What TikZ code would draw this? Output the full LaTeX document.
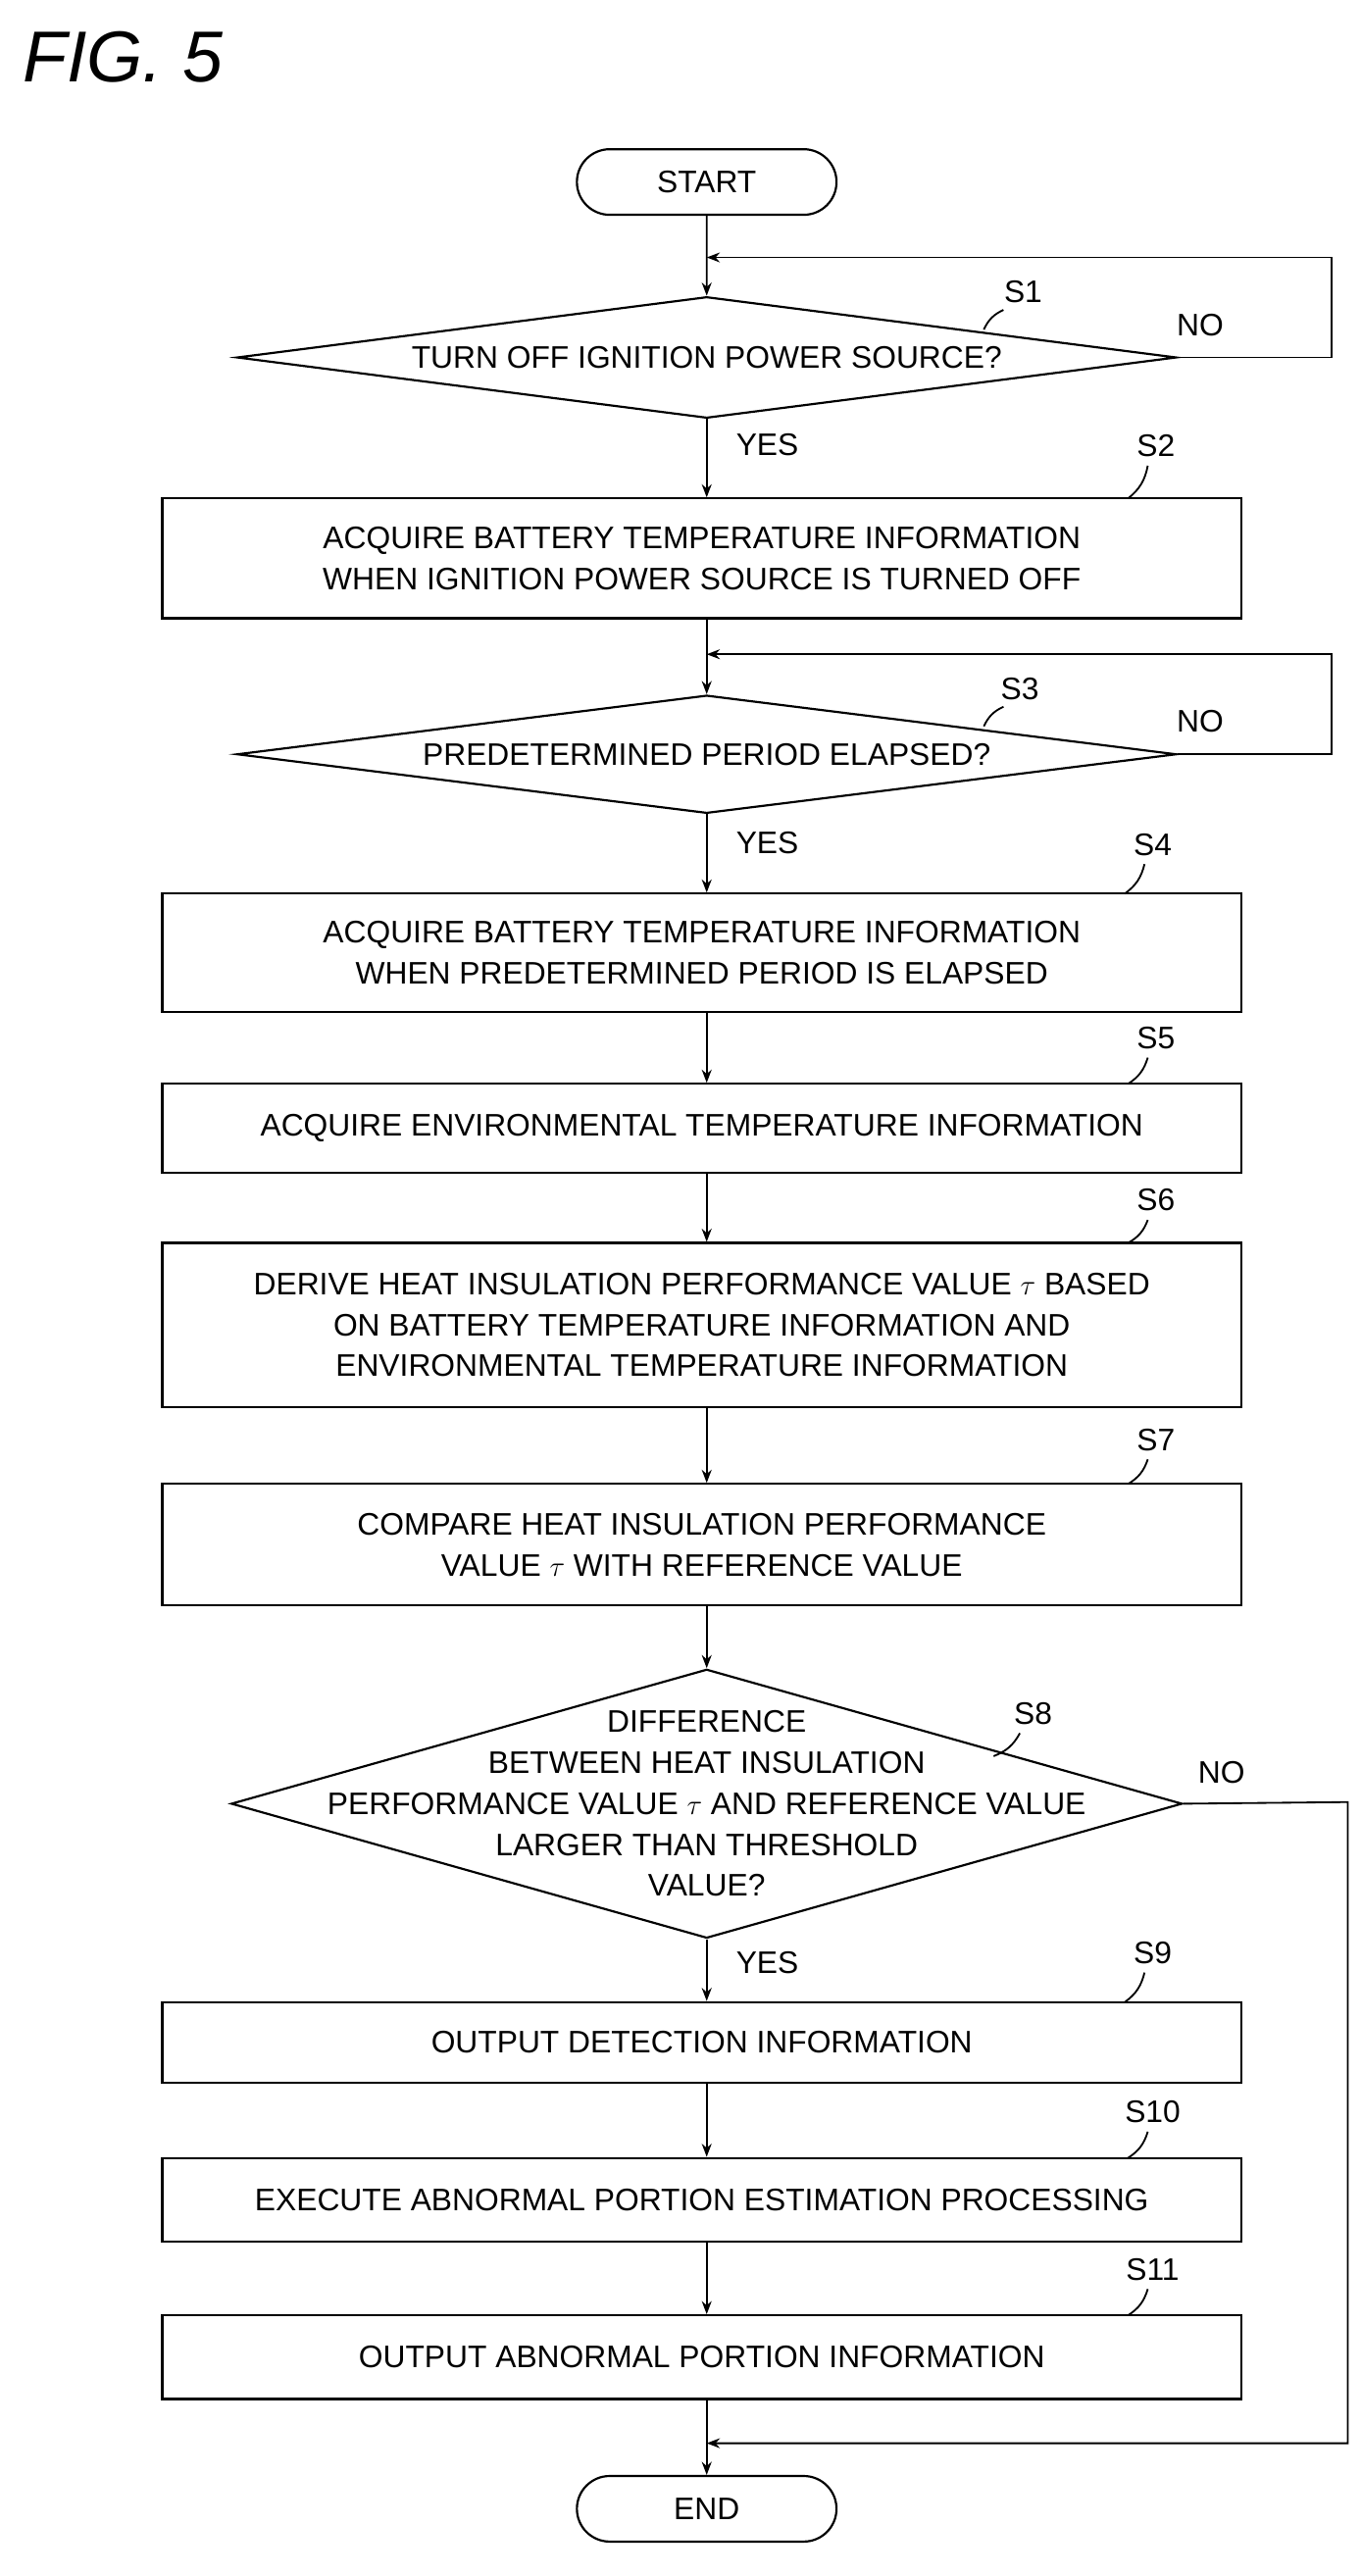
\documentclass[tikz,border=0pt]{standalone}
\usepackage{fontspec}
\setmainfont{Liberation Sans}
\usetikzlibrary{shapes.geometric,shapes.misc,arrows.meta}
\begin{document}
\begin{tikzpicture}[x=1pt,y=-1pt,
  box/.style={draw,line width=1.3pt,minimum width=658pt,inner sep=0pt,align=center,font=\fontsize{19}{25}\selectfont},
  dia/.style={draw,line width=1.3pt,diamond,aspect=7.7,inner sep=0pt,align=center,font=\fontsize{19}{25}\selectfont},
  term/.style={draw,line width=1.3pt,rounded rectangle,minimum width=165pt,minimum height=40pt,font=\fontsize{19}{20}\selectfont},
  lbl/.style={font=\fontsize{19}{20}\selectfont},
  arr/.style={line width=1.1pt,-{Stealth[length=8pt,width=6pt]}},
  ln/.style={line width=1.1pt}]
\useasboundingbox (0,0) rectangle (830,1571);
\node[font=\itshape\fontsize{44}{46}\selectfont] (fig) at (75,35) {FIG. 5};
\node[term] (start) at (431,111) {START};
\node[dia,minimum width=573pt,minimum height=74pt] (s1) at (431,218) {TURN OFF IGNITION POWER SOURCE?};
\node[box,minimum height=73pt] (s2) at (428,340.5) {ACQUIRE BATTERY TEMPERATURE INFORMATION\\WHEN IGNITION POWER SOURCE IS TURNED OFF};
\node[dia,minimum width=573pt,minimum height=72pt] (s3) at (431,460) {PREDETERMINED PERIOD ELAPSED?};
\node[box,minimum height=72pt] (s4) at (428,581) {ACQUIRE BATTERY TEMPERATURE INFORMATION\\WHEN PREDETERMINED PERIOD IS ELAPSED};
\node[box,minimum height=54pt] (s5) at (428,688) {ACQUIRE ENVIRONMENTAL TEMPERATURE INFORMATION};
\node[box,minimum height=100pt] (s6) at (428,808) {DERIVE HEAT INSULATION PERFORMANCE VALUE $\tau$ BASED\\ON BATTERY TEMPERATURE INFORMATION AND\\ENVIRONMENTAL TEMPERATURE INFORMATION};
\node[box,minimum height=74pt] (s7) at (428,942) {COMPARE HEAT INSULATION PERFORMANCE\\VALUE $\tau$ WITH REFERENCE VALUE};
\node[dia,minimum width=580pt,minimum height=164pt] (s8) at (431,1100) {};
\node[font=\fontsize{19}{25}\selectfont,align=center] (s8t) at (431,1100) {DIFFERENCE\\BETWEEN HEAT INSULATION\\PERFORMANCE VALUE $\tau$ AND REFERENCE VALUE\\LARGER THAN THRESHOLD\\VALUE?};
\node[box,minimum height=49pt] (s9) at (428,1245.5) {OUTPUT DETECTION INFORMATION};
\node[box,minimum height=51pt] (s10) at (428,1341.5) {EXECUTE ABNORMAL PORTION ESTIMATION PROCESSING};
\node[box,minimum height=51pt] (s11) at (428,1437.5) {OUTPUT ABNORMAL PORTION INFORMATION};
\node[term] (end) at (431,1530) {END};
\coordinate (j1) at (431,157); \coordinate (r1) at (812,157); \coordinate (r1b) at (812,218);
\coordinate (j3) at (431,399); \coordinate (r3) at (812,399); \coordinate (r3b) at (812,460);
\coordinate (j8) at (431,1490); \coordinate (r8) at (822,1490); \coordinate (r8b) at (822,1099);
\draw[arr] (start) -- (s1.north);
\draw[arr] (s1.east) -- (r1b) -- (r1) -- (j1);
\draw[arr] (s1.south) -- (s2.north -| s1.south);
\draw[arr] (s2.south -| s1.south) -- (s3.north);
\draw[arr] (s3.east) -- (r3b) -- (r3) -- (j3);
\draw[arr] (s3.south) -- (s4.north -| s3.south);
\draw[arr] (s4.south -| s3.south) -- (s5.north -| s3.south);
\draw[arr] (s5.south -| s3.south) -- (s6.north -| s3.south);
\draw[arr] (s6.south -| s3.south) -- (s7.north -| s3.south);
\draw[arr] (s7.south -| s3.south) -- (s8.north);
\draw[arr] (s8.south) -- (s9.north -| s8.south);
\draw[arr] (s9.south -| s8.south) -- (s10.north -| s8.south);
\draw[arr] (s10.south -| s8.south) -- (s11.north -| s8.south);
\draw[arr] (s11.south -| s8.south) -- (end.north);
\draw[arr] (s8.east) -- (r8b) -- (r8) -- (j8);
\node[lbl] (no1) at (732,198) {NO};
\node[lbl] (no3) at (732,440) {NO};
\node[lbl] (no8) at (745,1081) {NO};
\node[lbl] (y1) at (468,271) {YES};
\node[lbl] (y3) at (468,514) {YES};
\node[lbl] (y8) at (468,1197) {YES};
\node[lbl] (l1) at (624,178) {S1};
\node[lbl] (l2) at (705,272) {S2};
\node[lbl] (l3) at (622,420) {S3};
\node[lbl] (l4) at (703,515) {S4};
\node[lbl] (l5) at (705,633) {S5};
\node[lbl] (l6) at (705,732) {S6};
\node[lbl] (l7) at (705,878) {S7};
\node[lbl] (l8) at (630,1045) {S8};
\node[lbl] (l9) at (703,1191) {S9};
\node[lbl] (l10) at (703,1288) {S10};
\node[lbl] (l11) at (703,1384) {S11};
\draw[ln] (612,189) to[bend right=20] (600,201);
\draw[ln] (700,284) to[bend left=20] (688,304);
\draw[ln] (612,431) to[bend right=20] (600,443);
\draw[ln] (698,527) to[bend left=20] (686,545);
\draw[ln] (700,645) to[bend left=20] (688,661);
\draw[ln] (700,744) to[bend left=20] (688,758);
\draw[ln] (700,890) to[bend left=20] (688,905);
\draw[ln] (622,1057) to[bend left=20] (606,1071);
\draw[ln] (698,1203) to[bend left=20] (686,1221);
\draw[ln] (700,1300) to[bend left=20] (688,1316);
\draw[ln] (700,1396) to[bend left=20] (688,1412);
\end{tikzpicture}
\end{document}
